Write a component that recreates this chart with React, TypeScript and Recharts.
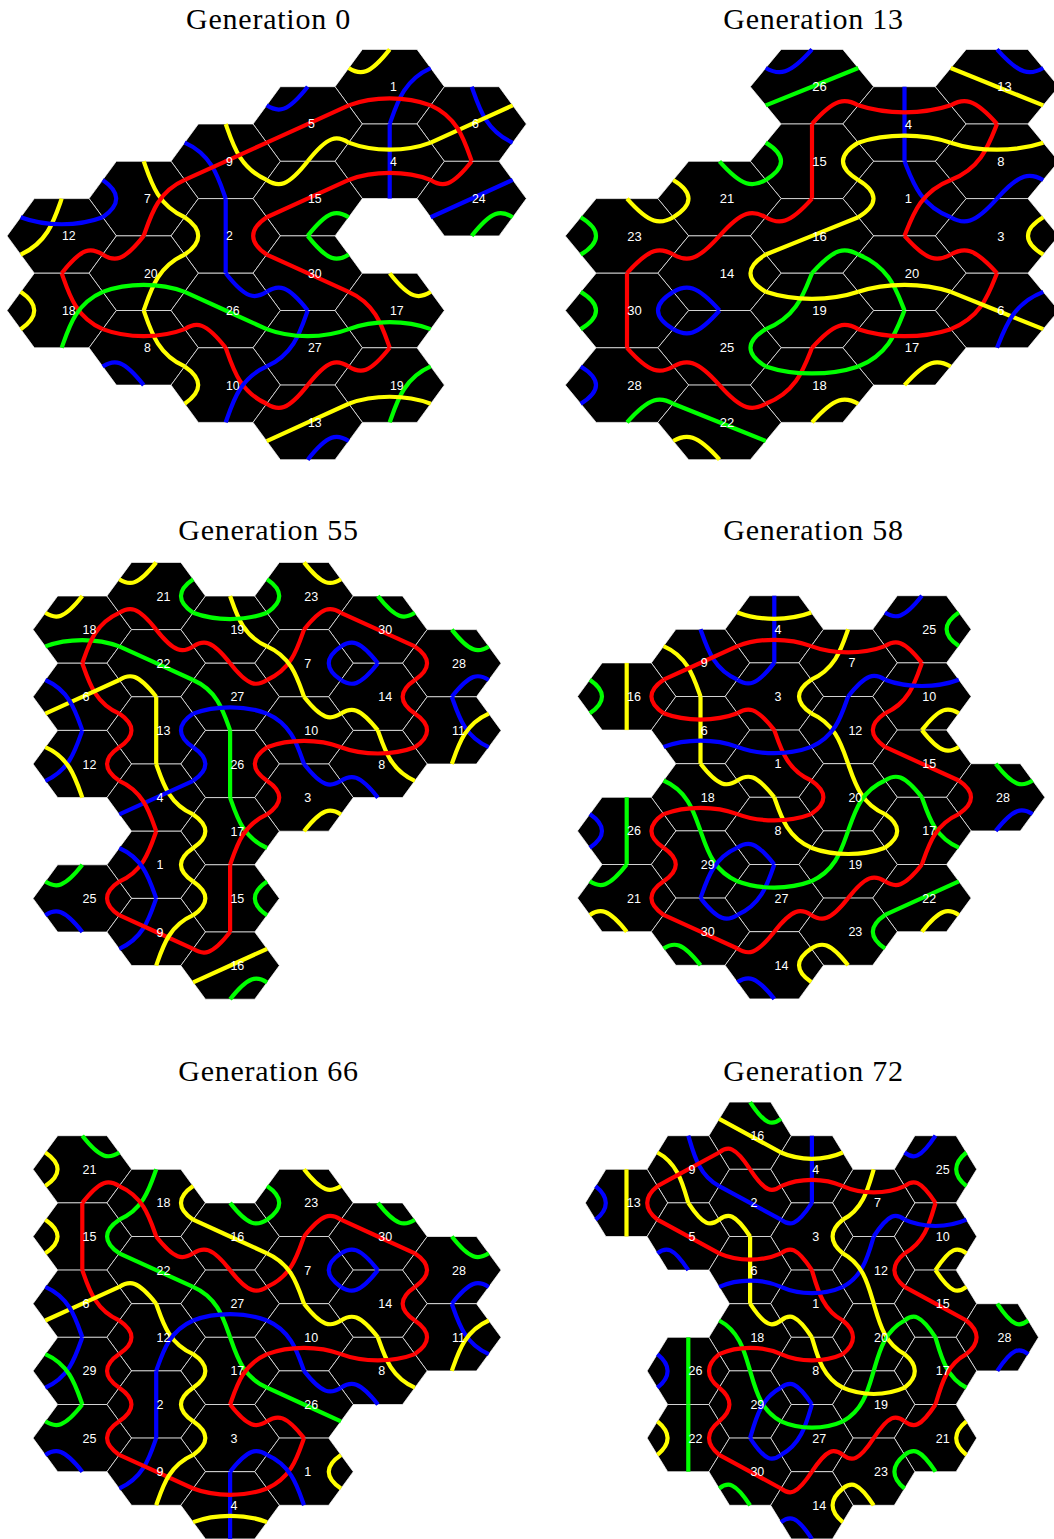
import React from "react";
import { ComposedChart, Line, Scatter, XAxis, YAxis } from "recharts";

// Tiles: [label, column, half-row, links]. A link is colour + two edge numbers
// (0 top, 1 upper right, 2 lower right, 3 bottom, 4 lower left, 5 upper left).
type Tile = [number, number, number, string];

const gen0: Tile[] = [
  [1, 4, 0, "y05 b13 r24"], [5, 3, 1, "b05 r14 y23"], [6, 5, 1, "b02 y14 r53"], [4, 4, 2, "b03 y51 r42"],
  [9, 2, 2, "y02 b53 r14"], [15, 3, 3, "y50 r14 g23"], [24, 5, 3, "r05 b14 g23"], [7, 1, 3, "y02 b54 r13"],
  [12, 0, 4, "y04 b51 r23"], [2, 2, 4, "b03 y54 r12"], [20, 1, 5, "r05 y13 g42"], [30, 3, 5, "g01 r52 b43"],
  [18, 0, 6, "y54 r02 g13"], [26, 2, 6, "g52 b01 r43"], [17, 4, 6, "y01 r53 g42"], [8, 1, 7, "y02 r51 b43"],
  [27, 3, 7, "b04 g51 r23"], [10, 2, 8, "r02 y54 b13"], [19, 4, 8, "r05 g13 y42"], [13, 3, 9, "r05 y14 b23"],
];
const gen13: Tile[] = [
  [26, 2, 0, "b05 g14 r23"], [4, 3, 1, "b03 r51 y42"], [13, 4, 0, "b01 y52 r43"], [15, 2, 2, "r03 g54 y12"],
  [8, 4, 2, "r04 y51 b23"], [21, 1, 3, "g01 y54 r23"], [1, 3, 3, "b02 y54 r13"], [23, 0, 4, "g54 y01 r23"],
  [16, 2, 4, "r05 y14 g23"], [3, 4, 4, "b05 y12 r43"], [14, 1, 5, "r05 y12 b43"], [20, 3, 5, "r01 g53 y42"],
  [30, 0, 6, "r03 g54 b12"], [19, 2, 6, "g04 y51 r23"], [6, 4, 6, "r04 y52 b13"], [25, 1, 7, "b05 g12 r43"],
  [17, 3, 7, "g04 r51 y23"], [28, 0, 8, "r01 b54 g23"], [18, 2, 8, "r04 g51 y23"], [22, 1, 9, "r01 g52 y43"],
];
const gen55: Tile[] = [
  [18, 0, 1, "y05 g42 r13"], [21, 1, 0, "y05 g12 r43"], [19, 2, 1, "y02 g51 r43"], [23, 3, 0, "g54 y01 r23"],
  [30, 4, 1, "g01 r52 b43"], [28, 5, 2, "g01 r54 b23"], [22, 1, 2, "r01 g52 y43"], [7, 3, 2, "r04 y53 b12"],
  [6, 0, 3, "r02 y14 b53"], [27, 2, 3, "r01 g53 b42"], [14, 4, 3, "b05 r12 y43"], [13, 1, 4, "y03 r54 b12"],
  [10, 3, 4, "y01 b53 r42"], [11, 5, 4, "b02 y13 r54"], [12, 0, 5, "b04 y53 r12"], [26, 2, 5, "g03 b54 r12"],
  [8, 4, 5, "y02 r51 b43"], [4, 1, 6, "y02 b14 r53"], [3, 3, 6, "b01 r54 y23"], [17, 2, 7, "g02 y54 r13"],
  [1, 1, 8, "r04 b53 y12"], [25, 0, 9, "g05 r12 b43"], [15, 2, 9, "r03 y54 g12"], [9, 1, 10, "b04 r52 y13"],
  [16, 2, 11, "r05 y14 g23"],
];
const gen58: Tile[] = [
  [4, 2, 0, "b03 y51 r42"], [25, 4, 0, "b05 g12 r43"], [9, 1, 1, "b02 y53 r14"], [7, 3, 1, "y04 r51 b23"],
  [16, 0, 2, "y03 g54 r12"], [3, 2, 2, "b05 y12 r43"], [10, 4, 2, "r04 b51 y23"], [6, 1, 3, "y03 r51 b42"],
  [12, 3, 3, "y53 b04 r12"], [1, 2, 4, "r02 b51 y43"], [15, 4, 4, "y01 r52 g43"], [18, 1, 5, "y01 g53 r42"],
  [20, 3, 5, "y02 g13 r54"], [28, 5, 5, "g01 r54 b23"], [26, 0, 6, "g03 b54 r12"], [8, 2, 6, "y02 r51 b43"],
  [17, 4, 6, "g02 y54 r13"], [29, 1, 7, "g02 b13 r54"], [19, 3, 7, "g04 y51 r23"], [21, 0, 8, "g05 r12 y43"],
  [27, 2, 8, "b04 g51 r23"], [22, 4, 8, "r05 g14 y23"], [30, 1, 9, "b01 r52 g43"], [23, 3, 9, "r05 g12 y43"],
  [14, 2, 10, "r05 y12 b43"],
];
const gen66: Tile[] = [
  [21, 0, 0, "g01 y54 r23"], [18, 1, 1, "g04 r53 y12"], [23, 3, 1, "g54 y01 r23"], [15, 0, 2, "r03 y54 g12"],
  [16, 2, 2, "g01 y52 r43"], [30, 4, 2, "g01 r52 b43"], [22, 1, 3, "r01 g52 y43"], [7, 3, 3, "r04 y53 b12"],
  [28, 5, 3, "g01 r54 b23"], [6, 0, 4, "r02 y14 b53"], [27, 2, 4, "r01 g53 b42"], [14, 4, 4, "b05 r12 y43"],
  [12, 1, 5, "y02 r54 b13"], [10, 3, 5, "y01 b53 r42"], [11, 5, 5, "b02 y13 r54"], [29, 0, 6, "b04 g53 r12"],
  [17, 2, 6, "g02 y54 r13"], [8, 4, 6, "y02 r51 b43"], [2, 1, 7, "b03 r54 y12"], [26, 3, 7, "b01 g52 r43"],
  [25, 0, 8, "g05 r12 b43"], [3, 2, 8, "r01 y54 b23"], [9, 1, 9, "b04 r52 y13"], [1, 3, 9, "r04 b53 y12"],
  [4, 2, 10, "b03 r51 y42"],
];
const gen72: Tile[] = [
  [16, 2, 0, "g01 y52 r43"], [9, 1, 1, "b02 y53 r14"], [4, 3, 1, "b03 y51 r42"], [25, 5, 1, "b05 g12 r43"],
  [13, 0, 2, "y03 b54 r12"], [2, 2, 2, "r01 b52 y43"], [7, 4, 2, "y04 r51 b23"], [5, 1, 3, "y01 r52 b43"],
  [3, 3, 3, "b05 y12 r43"], [10, 5, 3, "r04 b51 y23"], [6, 2, 4, "y03 r51 b42"], [12, 4, 4, "b04 y53 r12"],
  [1, 3, 5, "r02 b51 y43"], [15, 5, 5, "y01 r52 g43"], [18, 2, 6, "y01 g53 r42"], [20, 4, 6, "y02 g13 r54"],
  [28, 6, 6, "g01 r54 b23"], [26, 1, 7, "g03 b54 r12"], [8, 3, 7, "y02 r51 b43"], [17, 5, 7, "g02 y54 r13"],
  [29, 2, 8, "g02 b13 r54"], [19, 4, 8, "g04 y51 r23"], [22, 1, 9, "g03 y54 r12"], [27, 3, 9, "b04 g51 r23"],
  [21, 5, 9, "r05 y12 g43"], [30, 2, 10, "b01 r52 g43"], [23, 4, 10, "r05 g12 y43"], [14, 3, 11, "r05 y12 b43"],
];

const titles = ["Generation 0", "Generation 13", "Generation 55", "Generation 58", "Generation 66", "Generation 72"];
const tileSets = [gen0, gen13, gen55, gen58, gen66, gen72];

// Page placement of each panel: frame and the pixel size of one grid step.
const frames = [
  { left: 0, top: 40, width: 527, height: 430, titleX: 268.5, titleY: 19, x0: 61.7, y0: 86.7, step: 82, half: 37.3, font: 12.3 },
  { left: 527, top: 40, width: 527, height: 430, titleX: 813.5, titleY: 19, x0: 627, y0: 86.7, step: 92.5, half: 37.3, font: 13 },
  { left: 0, top: 550, width: 527, height: 460, titleX: 268.5, titleY: 530, x0: 82.3, y0: 596, step: 73.9, half: 33.6, font: 12.5 },
  { left: 527, top: 550, width: 527, height: 460, titleX: 813.5, titleY: 530, x0: 626.7, y0: 629.3, step: 73.8, half: 33.6, font: 12.5 },
  { left: 0, top: 1090, width: 527, height: 449, titleX: 268.5, titleY: 1071, x0: 82.3, y0: 1169.3, step: 73.9, half: 33.6, font: 12.5 },
  { left: 527, top: 1090, width: 527, height: 449, titleX: 813.5, titleY: 1071, x0: 626.5, y0: 1135.7, step: 61.8, half: 33.6, font: 12.5 },
];

const COLORS: Record<string, string> = { r: "#ff0000", g: "#00ff00", b: "#0000ff", y: "#ffff00" };
const EDGES = [[0, -1], [0.5, -0.5], [0.5, 0.5], [0, 1], [-0.5, 0.5], [-0.5, -0.5]];

// Bezier handles of a link inside one tile, one for each end, by the kind of link.
function handles(a: number, b: number): number[][] {
  const s = EDGES[a];
  const e = EDGES[b];
  const gap = Math.min((a - b + 6) % 6, (b - a + 6) % 6);
  if (gap === 3) {
    return [[s[0] + (e[0] - s[0]) / 3, s[1] + (e[1] - s[1]) / 3], [e[0] + (s[0] - e[0]) / 3, e[1] + (s[1] - e[1]) / 3]];
  }
  const aVertical = a === 0 || a === 3;
  const bVertical = b === 0 || b === 3;
  if (aVertical || bVertical) {
    const v = aVertical ? s : e;
    const o = aVertical ? e : s;
    const sx = Math.sign(o[0]);
    const sy = Math.sign(v[1]);
    const hv = gap === 1 ? [0.25 * sx, 0.3 * sy] : [0.09 * sx, 0.44 * sy];
    const ho = gap === 1 ? [0.36 * sx, 0.3 * sy] : [0.17 * sx, -0.18 * sy];
    return aVertical ? [hv, ho] : [ho, hv];
  }
  if (gap === 1) {
    return [s, e].map((p) => [0.28 * Math.sign(p[0]), 0.17 * Math.sign(p[1])]);
  }
  return [s, e].map((p) => [0.2 * Math.sign(p[0]), 0.25 * Math.sign(p[1])]);
}

function linkPoints(col: number, row: number, a: number, b: number) {
  const [c1, c2] = handles(a, b);
  return [EDGES[a], c1, c2, EDGES[b]].map(([x, y]) => ({ x: col + x, y: row + y }));
}

const bezierCurve = (ctx: any) => {
  let pts: number[][] = [];
  return {
    areaStart() {},
    areaEnd() {},
    lineStart() {
      pts = [];
    },
    point(x: number, y: number) {
      pts.push([x, y]);
    },
    lineEnd() {
      if (pts.length < 4) return;
      ctx.moveTo(pts[0][0], pts[0][1]);
      ctx.bezierCurveTo(pts[1][0], pts[1][1], pts[2][0], pts[2][1], pts[3][0], pts[3][1]);
    },
  };
};

function Panel({ tiles, frame }: { tiles: Tile[]; frame: (typeof frames)[number] }) {
  const { left, top, width, height, x0, y0, step, half, font } = frame;
  const cells = tiles.map(([label, col, row]) => ({ x: col, y: row, label }));
  const hexShape = (p: any) => {
    const w = (step * 2) / 3;
    const t = step / 3;
    const d = [[-t, -half], [t, -half], [w, 0], [t, half], [-t, half], [-w, 0]]
      .map(([dx, dy]) => `${p.cx + dx},${p.cy + dy}`)
      .join(" ");
    return <polygon points={d} fill="#000" stroke="#fff" strokeWidth={0.7} />;
  };
  const labelShape = (p: any) => (
    <text x={p.cx + 0.3} y={p.cy + font * 0.36} fill="#fff" fontSize={font} fontFamily="Liberation Sans">
      {p.payload.label}
    </text>
  );
  return (
    <div style={{ position: "absolute", left, top, width, height }}>
      <ComposedChart width={width} height={height} margin={{ top: 0, right: 0, bottom: 0, left: 0 }}>
        <XAxis
          type="number"
          dataKey="x"
          hide
          allowDataOverflow
          domain={[(left - x0) / step, (left + width - x0) / step]}
        />
        <YAxis
          type="number"
          dataKey="y"
          hide
          reversed
          allowDataOverflow
          domain={[(top - y0) / half, (top + height - y0) / half]}
        />
        <Scatter data={cells} shape={hexShape} isAnimationActive={false} zIndex={50} />
        {tiles.flatMap(([label, col, row, links]) =>
          links.split(" ").map((link) => (
            <Line
              key={`${label}-${link}`}
              data={linkPoints(col, row, Number(link[1]), Number(link[2]))}
              dataKey="y"
              type={bezierCurve as any}
              stroke={COLORS[link[0]]}
              strokeWidth={4.2}
              dot={false}
              activeDot={false}
              isAnimationActive={false}
              legendType="none"
              zIndex={400}
            />
          ))
        )}
        <Scatter data={cells} shape={labelShape} isAnimationActive={false} zIndex={2000} />
      </ComposedChart>
    </div>
  );
}

export default function App() {
  return (
    <div style={{ position: "absolute", left: 0, top: 0, width: 1054, height: 1539, overflow: "hidden", background: "#fff" }}>
      {tileSets.map((tiles, i) => (
        <React.Fragment key={titles[i]}>
          <div
            style={{
              position: "absolute",
              left: frames[i].titleX,
              top: frames[i].titleY,
              transform: "translate(-50%, -50%)",
              fontFamily: "Liberation Serif",
              fontSize: 30,
              letterSpacing: 0.75,
              whiteSpace: "nowrap",
              color: "#000",
            }}
          >
            {titles[i]}
          </div>
          <Panel tiles={tiles} frame={frames[i]} />
        </React.Fragment>
      ))}
    </div>
  );
}
